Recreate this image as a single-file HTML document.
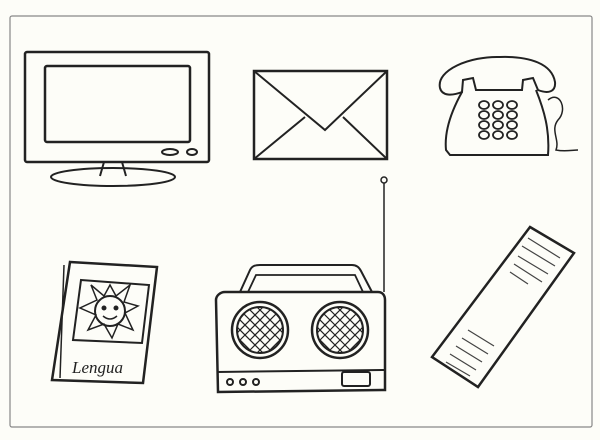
<!DOCTYPE html><html><head><style>body{margin:0;background:#fdfdf8}svg{display:block}</style></head><body>
<svg width="600" height="440" viewBox="0 0 600 440" xmlns="http://www.w3.org/2000/svg" fill="none" stroke="#222" stroke-width="2">
<rect x="0" y="0" width="600" height="440" fill="#fdfdf8" stroke="none"/>
<rect x="10" y="16" width="582" height="411" stroke="#888" stroke-width="1.2" rx="2"/>
<!-- TV -->
<rect x="25" y="52" width="184" height="110" rx="2" stroke-width="2.5"/>
<rect x="45" y="66" width="145" height="76" rx="2" stroke-width="2.5"/>
<ellipse cx="170" cy="152" rx="8" ry="3"/><ellipse cx="192" cy="152" rx="5" ry="3"/>
<path d="M104 162 L100 176 M122 162 L126 176"/>
<ellipse cx="113" cy="177" rx="62" ry="9"/>
<!-- envelope -->
<rect x="254" y="71" width="133" height="88" stroke-width="2.5"/>
<path d="M254 71 L325 130 L387 71 M254 159 L305 117 M387 159 L343 117"/>
<!-- telephone -->
<path d="M440 88 C436 70 470 56 500 57 C530 56 552 64 555 82 C556 92 548 94 538 90 L533 78 L523 80 L522 90 L476 90 L473 78 L463 80 L462 92 C452 96 442 96 440 88Z"/>
<path d="M462 92 C452 110 444 130 446 150 L450 155 L548 155 C550 130 544 110 536 90"/>
<path d="M548 100 C560 90 568 110 558 120 C550 130 560 140 556 150 C565 152 572 150 578 150" stroke-width="1.5"/>
<g stroke-width="1.8">
<ellipse cx="484" cy="105" rx="5" ry="4"/><ellipse cx="498" cy="105" rx="5" ry="4"/><ellipse cx="512" cy="105" rx="5" ry="4"/>
<ellipse cx="484" cy="115" rx="5" ry="4"/><ellipse cx="498" cy="115" rx="5" ry="4"/><ellipse cx="512" cy="115" rx="5" ry="4"/>
<ellipse cx="484" cy="125" rx="5" ry="4"/><ellipse cx="498" cy="125" rx="5" ry="4"/><ellipse cx="512" cy="125" rx="5" ry="4"/>
<ellipse cx="484" cy="135" rx="5" ry="4"/><ellipse cx="498" cy="135" rx="5" ry="4"/><ellipse cx="512" cy="135" rx="5" ry="4"/>
</g>
<!-- antenna + radio -->
<circle cx="384" cy="180" r="3" stroke-width="1.5"/>
<path d="M384 183 L384 292" stroke-width="1.5"/>
<path d="M240 292 L250 270 C252 266 255 265 260 265 L352 265 C356 265 359 267 361 271 L372 292"/>
<path d="M248 292 L256 275 L355 275 L363 292" stroke-width="1.8"/>
<path d="M225 292 L378 292 C383 292 385 296 385 300 L385 390 L218 392 L216 300 C216 296 220 292 225 292Z" stroke-width="2.5"/>
<path d="M217 372 L385 370"/>
<circle cx="260" cy="330" r="28" stroke-width="2.5"/><circle cx="260" cy="330" r="23"/>
<circle cx="340" cy="330" r="28" stroke-width="2.5"/><circle cx="340" cy="330" r="23"/>
<defs><clipPath id="c1"><circle cx="260" cy="330" r="23"/></clipPath>
<path id="grid" d="M230 310 l40 40 M230 320 l40 40 M230 300 l40 40 M240 300 l40 40 M220 310 l40 40 M220 320 l40 40 M250 300 l40 40 M290 310 l-40 40 M290 320 l-40 40 M290 300 l-40 40 M280 300 l-40 40 M300 310 l-40 40 M300 320 l-40 40 M270 300 l-40 40"/></defs>
<g stroke-width="1.2">
<g clip-path="url(#c1)"><use href="#grid"/></g>
<g transform="translate(80 0)"><g clip-path="url(#c1)"><use href="#grid"/></g></g>
</g>
<circle cx="230" cy="382" r="3"/><circle cx="243" cy="382" r="3"/><circle cx="256" cy="382" r="3"/>
<rect x="342" y="372" width="28" height="14" rx="2"/>
<!-- book -->
<path d="M70 262 L157 267 L143 383 L52 380Z" stroke-width="2.5"/>
<path d="M64 265 L60 378" stroke-width="1.5"/>
<path d="M81 280 L149 285 L142 343 L73 340Z"/>
<circle cx="110" cy="311" r="15"/>
<path d="M97 300 L91 285 L104 296 L110 285 L116 296 L130 285 L124 302 L138 306 L125 313 L133 330 L118 324 L112 338 L104 324 L88 330 L96 315 L80 308Z" stroke-width="1.5"/>
<circle cx="104" cy="308" r="1.5" fill="#222"/><circle cx="116" cy="308" r="1.5" fill="#222"/>
<path d="M103 316 Q110 322 117 316" stroke-width="1.5"/>
<text x="72" y="373" font-family="Liberation Serif, serif" font-style="italic" font-size="17" fill="#222" stroke="none">Lengua</text>
<!-- newspaper -->
<path d="M530 227 L574 253 L478 387 L432 357Z" stroke-width="2.5"/>
<g stroke-width="1.2" stroke="#444">
<path d="M528 238 L560 258 M522 246 L555 266 M518 256 L548 274 M514 264 L542 282 M510 272 L528 284"/>
<path d="M468 330 L494 346 M462 338 L488 354 M456 346 L482 362 M450 354 L476 370 M446 362 L470 376"/>
</g>
</svg>
</body></html>
